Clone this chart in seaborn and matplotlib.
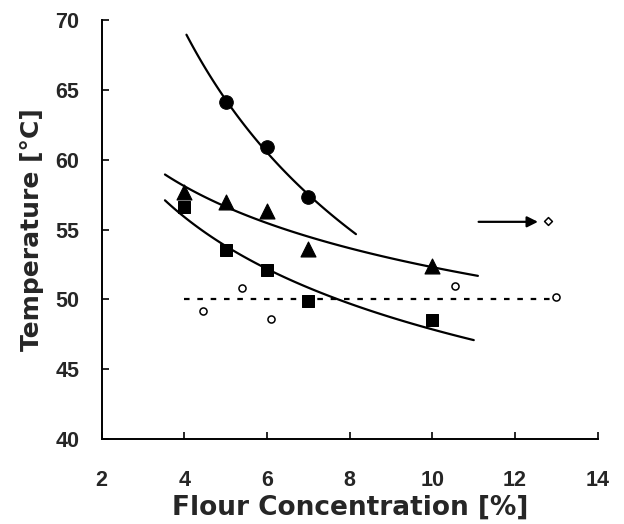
import numpy as np
import pandas as pd
import matplotlib
matplotlib.use("Agg")
import matplotlib.pyplot as plt
import seaborn as sns

# measured points (flour concentration %, temperature degC)
conc = [4, 5, 6, 7, 10]
circle_x = [5, 6, 7]
circle_y = [64.1, 60.9, 57.3]
triangle_y = [57.7, 57.0, 56.3, 53.6, 52.4]
square_y = [56.6, 53.5, 52.1, 49.9, 48.5]

open_x = [4.45, 5.4, 6.1, 10.55, 13.0]
open_y = [49.15, 50.8, 48.6, 50.95, 50.15]

diamond_x = [12.8]
diamond_y = [55.6]

# x ranges of the fitted power-law curves
circle_range = (4.05, 8.15)
triangle_range = (3.53, 11.1)
square_range = (3.53, 11.0)
ref_level = 50.0
ref_range = (4.0, 12.9)

sns.set_style("ticks")
plt.rcParams["font.family"] = ["Liberation Sans", "DejaVu Sans"]
plt.rcParams["font.weight"] = "bold"

fig = plt.figure(figsize=(6.24, 5.24), dpi=100)
ax = fig.add_axes([0.163, 0.162, 0.795, 0.800])


def power_fit(xs, ys, lo, hi):
    b, a = np.polyfit(np.log(xs), np.log(ys), 1)
    xx = np.linspace(lo, hi, 100)
    return pd.DataFrame({"x": xx, "y": np.exp(a) * xx ** b})


for xs, ys, rng in [(circle_x, circle_y, circle_range),
                    (conc, triangle_y, triangle_range),
                    (conc, square_y, square_range)]:
    fit = power_fit(xs, ys, *rng)
    sns.lineplot(data=fit, x="x", y="y", ax=ax, color="black", lw=1.6)

ax.plot(ref_range, [ref_level, ref_level], color="black", lw=1.6,
        linestyle=(0, (2.5, 3.5)))

sns.scatterplot(x=circle_x, y=circle_y, ax=ax, marker="o", s=95,
                color="black", edgecolor="black", zorder=5)
sns.scatterplot(x=conc, y=triangle_y, ax=ax, marker="^", s=115,
                color="black", edgecolor="black", zorder=5)
sns.scatterplot(x=conc, y=square_y, ax=ax, marker="s", s=80,
                color="black", edgecolor="black", zorder=5)
sns.scatterplot(x=open_x, y=open_y, ax=ax, marker="o", s=26,
                facecolor="white", edgecolor="black", linewidth=1.1, zorder=5)
sns.scatterplot(x=diamond_x, y=diamond_y, ax=ax, marker="D", s=16,
                facecolor="white", edgecolor="black", linewidth=1.1, zorder=5)

ax.annotate("", xy=(12.62, 55.55), xytext=(11.05, 55.55),
            arrowprops=dict(arrowstyle="-|>", color="black", lw=1.6,
                            mutation_scale=16))

ax.set_xlim(2, 14)
ax.set_ylim(40, 70)
ax.set_xticks(range(2, 15, 2))
ax.set_yticks(range(40, 71, 5))
ax.tick_params(direction="in", length=5, width=1.4, labelsize=15.5)
ax.tick_params(axis="x", pad=22)
ax.tick_params(axis="y", pad=16)
for lab in ax.get_xticklabels() + ax.get_yticklabels():
    lab.set_fontweight("bold")
sns.despine(ax=ax)
for sp in ["left", "bottom"]:
    ax.spines[sp].set_linewidth(1.4)
    ax.spines[sp].set_color("black")

ax.set_xlabel("Flour Concentration [%]", fontsize=19, fontweight="bold",
              family="DejaVu Sans", labelpad=3)
ax.set_ylabel("Temperature [\u00b0C]", fontsize=18, fontweight="bold",
              family="DejaVu Sans", labelpad=8)

fig.savefig("out.png", dpi=100)
